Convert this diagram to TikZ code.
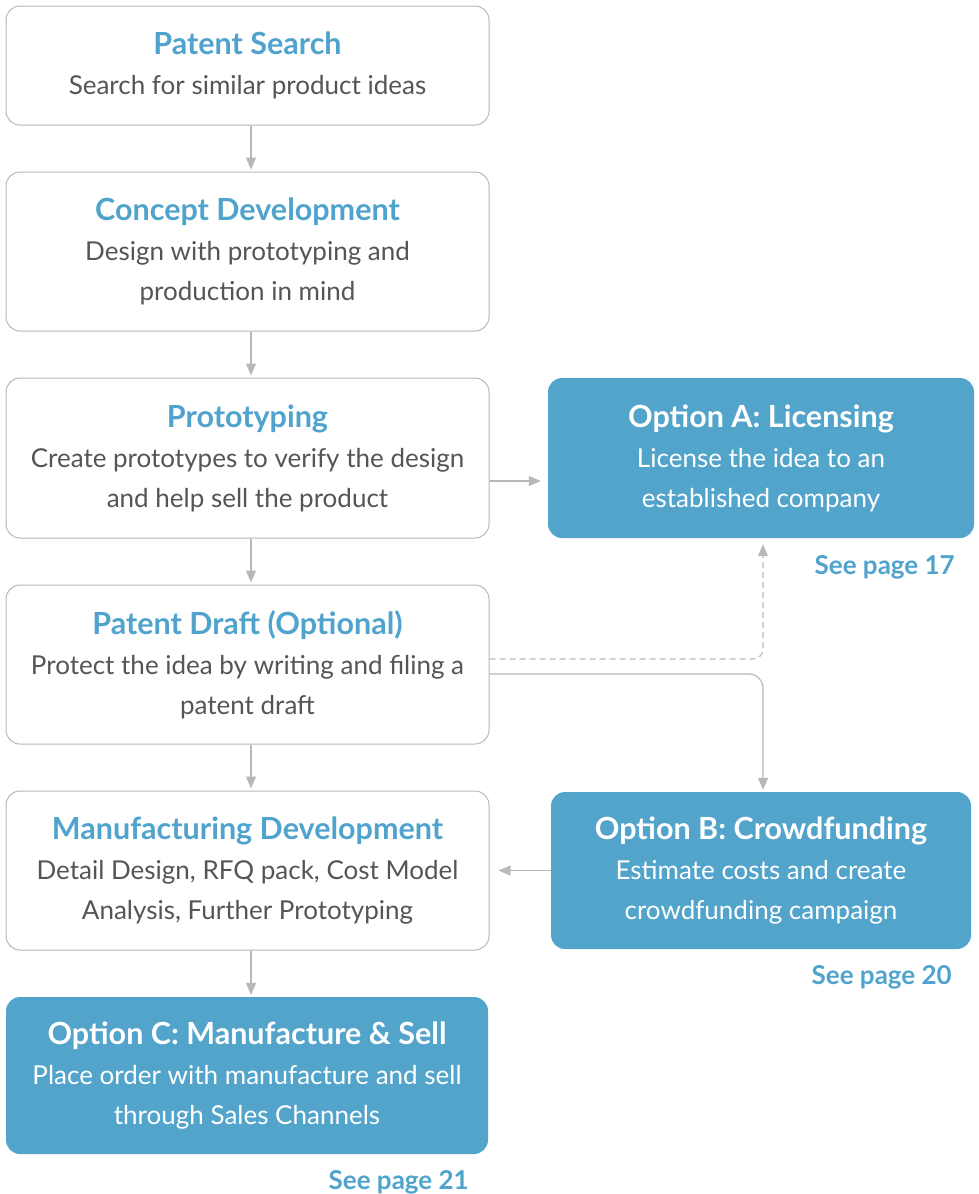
\documentclass[tikz,border=0pt]{standalone}
\usepackage{fontspec}
\setmainfont{Lato}
\usetikzlibrary{arrows.meta,calc}
\definecolor{boxblue}{HTML}{52A4CB}
\definecolor{titleblue}{HTML}{4FA3CC}
\definecolor{bodygray}{HTML}{555555}
\definecolor{linegray}{HTML}{B8B8B8}
\newcommand{\stagetitle}[1]{{\bfseries\fontsize{30.5}{40}\selectfont #1}}
\begin{document}
\begin{tikzpicture}[x=1pt,y=-1pt,
  stagebox/.style={draw=linegray,line width=1pt,fill=white,rounded corners=14pt,
    align=center,inner sep=0pt,text=bodygray,font=\fontsize{26}{40}\selectfont},
  optbox/.style={fill=boxblue,rounded corners=14pt,align=center,inner sep=0pt,
    text=white,font=\fontsize{26}{40}\selectfont},
  pageref/.style={text=titleblue,font=\bfseries\fontsize{26}{30}\selectfont,inner sep=0pt},
  flow/.style={draw=linegray,line width=1.2pt,-{Triangle[width=10pt,length=12pt]}},
]
\useasboundingbox (0,0) rectangle (979,1194);

% left column of stages
\node[stagebox,minimum width=483pt,minimum height=119pt] (ps) at (247.5,65.5)
  {\textcolor{titleblue}{\stagetitle{Patent Search}}\\Search for similar product ideas};
\node[stagebox,minimum width=483pt,minimum height=159pt] (cd) at (247.5,251.5)
  {\textcolor{titleblue}{\stagetitle{Concept Development}}\\Design with prototyping and\\production in mind};
\node[stagebox,minimum width=483pt,minimum height=160pt] (pr) at (247.5,458)
  {\textcolor{titleblue}{\stagetitle{Prototyping}}\\Create prototypes to verify the design\\and help sell the product};
\node[stagebox,minimum width=483pt,minimum height=159pt] (pd) at (247.5,664.5)
  {\textcolor{titleblue}{\stagetitle{Patent Draft (Optional)}}\\Protect the idea by writing and filing a\\patent draft};
\node[stagebox,minimum width=483pt,minimum height=159pt] (md) at (247.5,870.5)
  {\textcolor{titleblue}{\stagetitle{Manufacturing Development}}\\Detail Design, RFQ pack, Cost Model\\Analysis, Further Prototyping};

% option boxes
\node[optbox,minimum width=426pt,minimum height=160pt] (oa) at (761,458)
  {\stagetitle{Option A: Licensing}\\License the idea to an\\established company};
\node[optbox,minimum width=420pt,minimum height=157pt] (ob) at (761,870.5)
  {\stagetitle{Option B: Crowdfunding}\\Estimate costs and create\\crowdfunding campaign};
\node[optbox,minimum width=482pt,minimum height=157pt] (oc) at (247,1075.5)
  {\stagetitle{Option C: Manufacture \& Sell}\\Place order with manufacture and sell\\through Sales Channels};

% page references
\node[pageref,anchor=east] (ra) at (955,567) {See page 17};
\node[pageref,anchor=east] (rb) at (952,977) {See page 20};
\node[pageref,anchor=east] (rc) at (469,1182) {See page 21};

% connectors
\draw[flow,shorten >=2pt] ($(ps.south)+(3.5,0)$) -- ($(cd.north)+(3.5,0)$);
\draw[flow,shorten >=2pt] ($(cd.south)+(3.5,0)$) -- ($(pr.north)+(3.5,0)$);
\draw[flow,shorten >=2pt] ($(pr.south)+(3.5,0)$) -- ($(pd.north)+(3.5,0)$);
\draw[flow,shorten >=2pt] ($(pd.south)+(3.5,0)$) -- ($(md.north)+(3.5,0)$);
\draw[flow,shorten >=2pt] ($(md.south)+(3.5,0)$) -- ($(oc.north)+(4,0)$);
\draw[flow,shorten >=7pt] ($(pr.east)+(0,23)$) -- ($(oa.west)+(0,23)$);
\draw[flow,shorten >=9pt] (ob.west) -- (md.east);
\draw[flow,dashed,dash pattern=on 6pt off 4pt,rounded corners=10pt,shorten >=6pt]
  ($(pd.east)+(0,-5.5)$) -| ($(oa.south)+(2,0)$);
\draw[flow,rounded corners=14pt,shorten >=2pt]
  ($(pd.east)+(0,9.5)$) -| ($(ob.north)+(2,0)$);
\end{tikzpicture}
\end{document}
